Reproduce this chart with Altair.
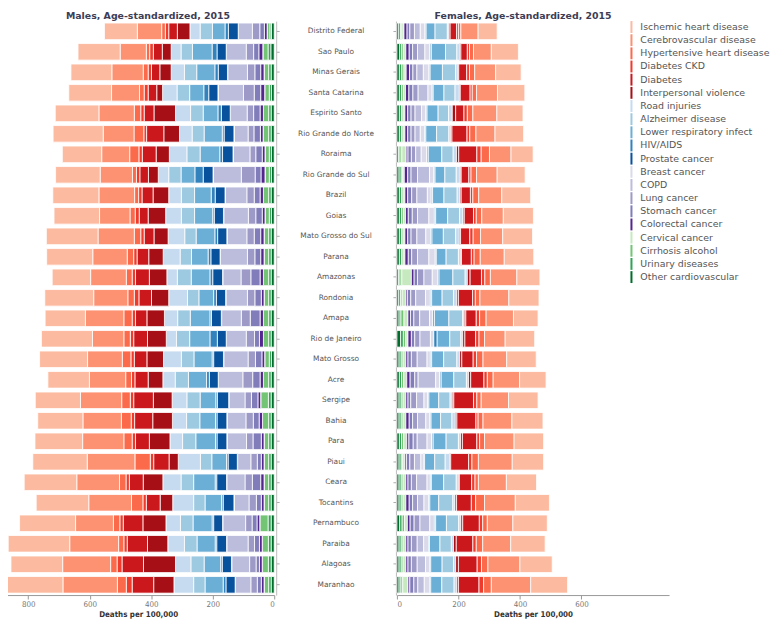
import altair as alt
import pandas as pd

states = ["Distrito Federal", "Sao Paulo", "Minas Gerais", "Santa Catarina", "Espirito Santo",
          "Rio Grande do Norte", "Roraima", "Rio Grande do Sul", "Brazil", "Goias",
          "Mato Grosso do Sul", "Parana", "Amazonas", "Rondonia", "Amapa", "Rio de Janeiro",
          "Mato Grosso", "Acre", "Sergipe", "Bahia", "Para", "Piaui", "Ceara", "Tocantins",
          "Pernambuco", "Paraiba", "Alagoas", "Maranhao"]

# stacking order, from the zero line outwards
causes = ["Other cardiovascular", "Urinary diseases", "Cirrhosis alcohol", "Cervical cancer",
          "Colorectal cancer", "Stomach cancer", "Lung cancer", "COPD", "Breast cancer",
          "Prostate cancer", "HIV/AIDS", "Lower respiratory infect", "Alzheimer disease",
          "Road injuries", "Interpersonal violence", "Diabetes", "Diabetes CKD",
          "Hypertensive heart disease", "Cerebrovascular disease", "Ischemic heart disease"]

legend_order = causes[::-1]
legend_colors = ["#fcbba1", "#fc9272", "#fb6a4a", "#ef3b2c", "#cb181d", "#a50f15",
                 "#c6dbef", "#9ecae1", "#6baed6", "#3182bd", "#08519c",
                 "#dadaeb", "#bcbddc", "#9e9ac8", "#807dba", "#54278f",
                 "#c7e9c0", "#74c476", "#31a354", "#006d2c"]

male_ticks = [0, 200, 400, 600, 800]
female_ticks = [0, 200, 400, 600]

# Males (values in the order of `causes`)
m_distrito_federal = [9, 5, 9, 0, 9, 15, 24, 45, 1, 32, 11, 41, 40, 33, 41, 28, 11, 12, 79, 107]
m_sao_paulo = [11, 9, 17, 0, 13, 17, 24, 64, 1, 30, 16, 64, 37, 32, 29, 29, 12, 11, 85, 137]
m_minas_gerais = [10, 8, 15, 0, 11, 19, 24, 64, 1, 30, 11, 59, 40, 43, 37, 27, 11, 16, 102, 133]
m_santa_catarina = [9, 7, 15, 0, 13, 21, 35, 82, 1, 30, 16, 46, 41, 47, 19, 28, 13, 15, 91, 139]
m_espirito_santo = [10, 8, 17, 0, 11, 21, 21, 54, 1, 29, 11, 48, 41, 49, 70, 32, 11, 21, 115, 142]
m_rio_grande_do_norte = [10, 8, 18, 0, 9, 21, 19, 45, 1, 32, 6, 59, 39, 41, 51, 56, 9, 32, 100, 163]
m_roraima = [9, 7, 14, 0, 9, 21, 19, 54, 1, 34, 9, 64, 43, 57, 43, 45, 11, 30, 91, 128]
m_rio_grande_do_sul = [9, 7, 14, 0, 13, 19, 45, 91, 1, 32, 27, 45, 40, 34, 32, 28, 11, 13, 105, 145]
m_brazil = [10, 8, 17, 0, 11, 19, 24, 70, 1, 32, 13, 54, 43, 41, 51, 36, 11, 13, 116, 150]
m_goias = [9, 7, 14, 0, 9, 21, 24, 80, 1, 30, 5, 59, 43, 51, 57, 29, 13, 17, 99, 148]
m_mato_grosso_do_sul = [10, 8, 15, 0, 11, 21, 24, 64, 1, 30, 9, 61, 37, 54, 46, 32, 11, 21, 118, 168]
m_parana = [10, 8, 15, 0, 11, 19, 24, 88, 1, 30, 9, 54, 37, 55, 47, 38, 11, 21, 112, 150]
m_amazonas = [10, 8, 17, 0, 11, 30, 32, 59, 1, 32, 9, 61, 45, 34, 57, 45, 11, 19, 116, 125]
m_rondonia = [10, 8, 15, 0, 9, 21, 24, 70, 1, 30, 9, 48, 37, 61, 56, 41, 15, 21, 111, 159]
m_amapa = [10, 8, 17, 0, 11, 32, 29, 64, 1, 32, 5, 64, 41, 43, 57, 37, 11, 27, 125, 131]
m_rio_de_janeiro = [10, 8, 17, 0, 13, 16, 27, 64, 1, 29, 24, 66, 43, 33, 61, 45, 11, 21, 102, 166]
m_mato_grosso = [9, 7, 15, 0, 9, 21, 24, 79, 1, 32, 5, 59, 41, 58, 54, 41, 11, 28, 113, 156]
m_acre = [10, 8, 17, 0, 11, 24, 32, 79, 1, 29, 9, 59, 43, 40, 48, 43, 11, 19, 118, 135]
m_sergipe = [10, 9, 25, 0, 9, 21, 21, 52, 1, 37, 5, 51, 43, 48, 61, 64, 11, 28, 134, 147]
m_bahia = [10, 8, 20, 0, 11, 19, 24, 61, 1, 32, 5, 51, 43, 46, 64, 59, 11, 32, 125, 147]
m_para = [10, 8, 15, 0, 9, 27, 21, 63, 1, 32, 5, 64, 43, 41, 67, 45, 11, 27, 134, 155]
m_piaui = [10, 8, 15, 0, 9, 13, 21, 43, 1, 30, 5, 48, 37, 72, 30, 50, 11, 50, 155, 177]
m_ceara = [10, 8, 15, 0, 11, 27, 24, 59, 1, 32, 5, 70, 41, 59, 64, 45, 11, 21, 139, 171]
m_tocantins = [10, 8, 15, 0, 9, 16, 24, 48, 1, 35, 5, 54, 37, 68, 41, 45, 11, 37, 139, 171]
m_pernambuco = [10, 10, 27, 0, 9, 16, 21, 74, 1, 29, 5, 62, 41, 47, 75, 64, 11, 21, 123, 182]
m_paraiba = [10, 9, 20, 0, 9, 16, 21, 69, 1, 32, 5, 59, 41, 54, 66, 66, 11, 17, 159, 200]
m_alagoas = [10, 9, 20, 0, 9, 11, 21, 58, 1, 30, 5, 54, 43, 50, 104, 70, 16, 21, 156, 168]
m_maranhao = [10, 8, 15, 0, 9, 13, 21, 50, 1, 30, 9, 59, 37, 64, 66, 70, 19, 29, 177, 196]

# Females (values in the order of `causes`)
f_distrito_federal = [6, 6, 4, 7, 10, 9, 15, 19, 16, 0, 3, 29, 40, 5, 4, 21, 6, 8, 56, 62]
f_sao_paulo = [9, 7, 6, 7, 11, 11, 16, 24, 17, 0, 4, 46, 37, 9, 4, 21, 7, 13, 58, 88]
f_minas_gerais = [8, 8, 7, 7, 11, 11, 13, 21, 19, 0, 3, 40, 43, 7, 3, 26, 9, 17, 68, 83]
f_santa_catarina = [8, 7, 6, 7, 11, 13, 17, 32, 14, 0, 3, 35, 36, 14, 3, 32, 7, 14, 68, 89]
f_espirito_santo = [8, 7, 5, 6, 9, 11, 13, 21, 15, 0, 3, 36, 34, 12, 11, 27, 11, 18, 78, 85]
f_rio_grande_do_norte = [8, 7, 5, 6, 9, 11, 13, 17, 15, 0, 3, 35, 40, 6, 4, 49, 9, 20, 62, 93]
f_roraima = [5, 5, 6, 14, 6, 11, 14, 18, 19, 0, 4, 44, 37, 11, 7, 59, 14, 27, 70, 72]
f_rio_grande_do_sul = [7, 7, 5, 5, 11, 11, 21, 39, 15, 0, 3, 32, 37, 13, 3, 25, 7, 18, 67, 91]
f_brazil = [8, 7, 5, 6, 9, 13, 17, 34, 13, 0, 4, 37, 43, 9, 4, 30, 8, 19, 75, 94]
f_goias = [8, 7, 6, 7, 9, 13, 17, 37, 18, 0, 4, 39, 39, 11, 4, 30, 9, 18, 70, 98]
f_mato_grosso_do_sul = [8, 7, 5, 6, 9, 11, 19, 29, 16, 0, 4, 37, 40, 12, 4, 30, 11, 24, 72, 97]
f_parana = [8, 7, 5, 6, 11, 11, 19, 37, 21, 0, 3, 32, 40, 7, 3, 32, 9, 20, 78, 96]
f_amazonas = [5, 5, 6, 31, 9, 11, 21, 27, 18, 0, 4, 45, 40, 7, 9, 37, 11, 18, 86, 75]
f_rondonia = [6, 6, 5, 12, 5, 11, 16, 32, 16, 0, 4, 34, 37, 11, 5, 46, 9, 15, 94, 98]
f_amapa = [7, 6, 10, 13, 8, 11, 19, 32, 11, 0, 5, 47, 45, 5, 5, 34, 11, 21, 89, 80]
f_rio_de_janeiro = [12, 9, 8, 7, 11, 11, 17, 34, 11, 0, 11, 41, 36, 6, 7, 35, 11, 18, 67, 96]
f_mato_grosso = [7, 7, 6, 9, 7, 11, 19, 32, 11, 0, 4, 39, 43, 9, 7, 37, 11, 21, 77, 96]
f_acre = [8, 7, 7, 10, 11, 15, 11, 57, 14, 0, 4, 41, 41, 7, 7, 43, 11, 19, 86, 86]
f_sergipe = [7, 7, 6, 9, 7, 9, 19, 24, 13, 0, 3, 32, 37, 7, 5, 64, 11, 14, 89, 96]
f_bahia = [7, 7, 6, 9, 11, 11, 16, 27, 14, 0, 3, 31, 37, 11, 5, 62, 7, 16, 94, 101]
f_para = [8, 7, 7, 10, 7, 14, 13, 32, 16, 0, 4, 42, 40, 7, 6, 47, 9, 16, 96, 96]
f_piaui = [7, 7, 5, 7, 5, 11, 15, 21, 9, 0, 3, 33, 34, 14, 4, 58, 11, 21, 110, 102]
f_ceara = [7, 7, 6, 9, 7, 11, 17, 34, 11, 0, 3, 40, 41, 7, 3, 40, 11, 11, 91, 98]
f_tocantins = [7, 7, 6, 9, 11, 11, 16, 21, 16, 0, 3, 29, 46, 7, 5, 48, 14, 29, 100, 111]
f_pernambuco = [9, 8, 8, 9, 9, 13, 19, 32, 15, 0, 4, 35, 40, 7, 6, 54, 11, 15, 83, 112]
f_paraiba = [7, 7, 6, 9, 7, 11, 19, 21, 16, 0, 3, 34, 37, 7, 9, 54, 11, 21, 91, 112]
f_alagoas = [7, 7, 6, 9, 7, 11, 19, 27, 14, 0, 3, 37, 37, 7, 9, 61, 14, 21, 104, 105]
f_maranhao = [7, 6, 6, 17, 6, 13, 13, 21, 17, 0, 4, 36, 40, 9, 5, 67, 15, 25, 128, 120]

male_rows = [m_distrito_federal, m_sao_paulo, m_minas_gerais, m_santa_catarina, m_espirito_santo,
             m_rio_grande_do_norte, m_roraima, m_rio_grande_do_sul, m_brazil, m_goias,
             m_mato_grosso_do_sul, m_parana, m_amazonas, m_rondonia, m_amapa, m_rio_de_janeiro,
             m_mato_grosso, m_acre, m_sergipe, m_bahia, m_para, m_piaui, m_ceara, m_tocantins,
             m_pernambuco, m_paraiba, m_alagoas, m_maranhao]
female_rows = [f_distrito_federal, f_sao_paulo, f_minas_gerais, f_santa_catarina, f_espirito_santo,
               f_rio_grande_do_norte, f_roraima, f_rio_grande_do_sul, f_brazil, f_goias,
               f_mato_grosso_do_sul, f_parana, f_amazonas, f_rondonia, f_amapa, f_rio_de_janeiro,
               f_mato_grosso, f_acre, f_sergipe, f_bahia, f_para, f_piaui, f_ceara, f_tocantins,
               f_pernambuco, f_paraiba, f_alagoas, f_maranhao]

recs = []
for i, st in enumerate(states):
    for j, c in enumerate(causes):
        recs.append({"state": st, "cause": c, "ord": j,
                     "male": male_rows[i][j], "female": female_rows[i][j]})
df = pd.DataFrame(recs)

FONT = "DejaVu Sans"
AXFONT = "'Liberation Sans Narrow', 'DejaVu Sans Condensed', 'Liberation Sans', 'DejaVu Sans', sans-serif"

legend = alt.Legend(orient="none", legendX=630, legendY=0, title=None,
                    symbolType="M-0.17,-1H0.17V1H-0.17Z", symbolSize=144,
                    symbolStrokeWidth=0, symbolOpacity=1,
                    labelFont=FONT, labelFontSize=9.5, labelColor="#555555",
                    labelOffset=3, rowPadding=1.3, labelLimit=300)
color = alt.Color("cause:N", scale=alt.Scale(domain=legend_order, range=legend_colors),
                  legend=legend)

ybase = dict(field="state", type="nominal", sort=states, title=None,
             scale=alt.Scale(paddingInner=0.19, paddingOuter=0.095))

def xaxis(vals):
    return alt.Axis(values=vals, title="Deaths per 100,000",
                    labelFont=AXFONT, labelFontSize=8, labelColor="#777777",
                    titleFont=AXFONT, titleFontSize=8, titleFontWeight="bold",
                    titleColor="#333333", titlePadding=2, grid=False,
                    domainColor="#999999", tickColor="#999999", tickSize=4, labelPadding=2)

title_style = dict(offset=1, font=FONT, fontSize=9.5, fontWeight="bold", color="#3d3d55")

male = alt.Chart(df).mark_bar(stroke="white", strokeWidth=0.8).encode(
    x=alt.X("male:Q", stack="zero",
            scale=alt.Scale(domain=[0, 885], reverse=True, nice=False, zero=True),
            axis=xaxis(male_ticks)),
    y=alt.Y(**ybase, axis=alt.Axis(orient="right", labelAlign="center", labelPadding=57,
                                   labelFont=FONT, labelFontSize=7.5, labelColor="#555555",
                                   tickSize=3, tickColor="#aaaaaa", domainColor="#bbbbbb",
                                   offset=2, labelBaseline="middle")),
    color=color,
    order=alt.Order("ord:Q"),
).properties(width=275, height=580,
             title=alt.TitleParams("Males, Age-standardized, 2015", dx=10, **title_style))

female = alt.Chart(df).mark_bar(stroke="white", strokeWidth=0.8).encode(
    x=alt.X("female:Q", stack="zero",
            scale=alt.Scale(domain=[0, 885], nice=False, zero=True),
            axis=xaxis(female_ticks)),
    y=alt.Y(**ybase, axis=alt.Axis(orient="left", labels=False, tickSize=3,
                                   tickColor="#aaaaaa", domainColor="#bbbbbb", offset=1)),
    color=color,
    order=alt.Order("ord:Q"),
).properties(width=275, height=580,
             title=alt.TitleParams("Females, Age-standardized, 2015", dx=-10, **title_style))

chart = alt.hconcat(male, female, spacing=124, bounds="flush").properties(
    padding={"left": -6, "top": -1, "right": 0, "bottom": 0}
).configure_view(stroke=None)

chart.save("out.html", embed_options={"renderer": "svg", "actions": False})
